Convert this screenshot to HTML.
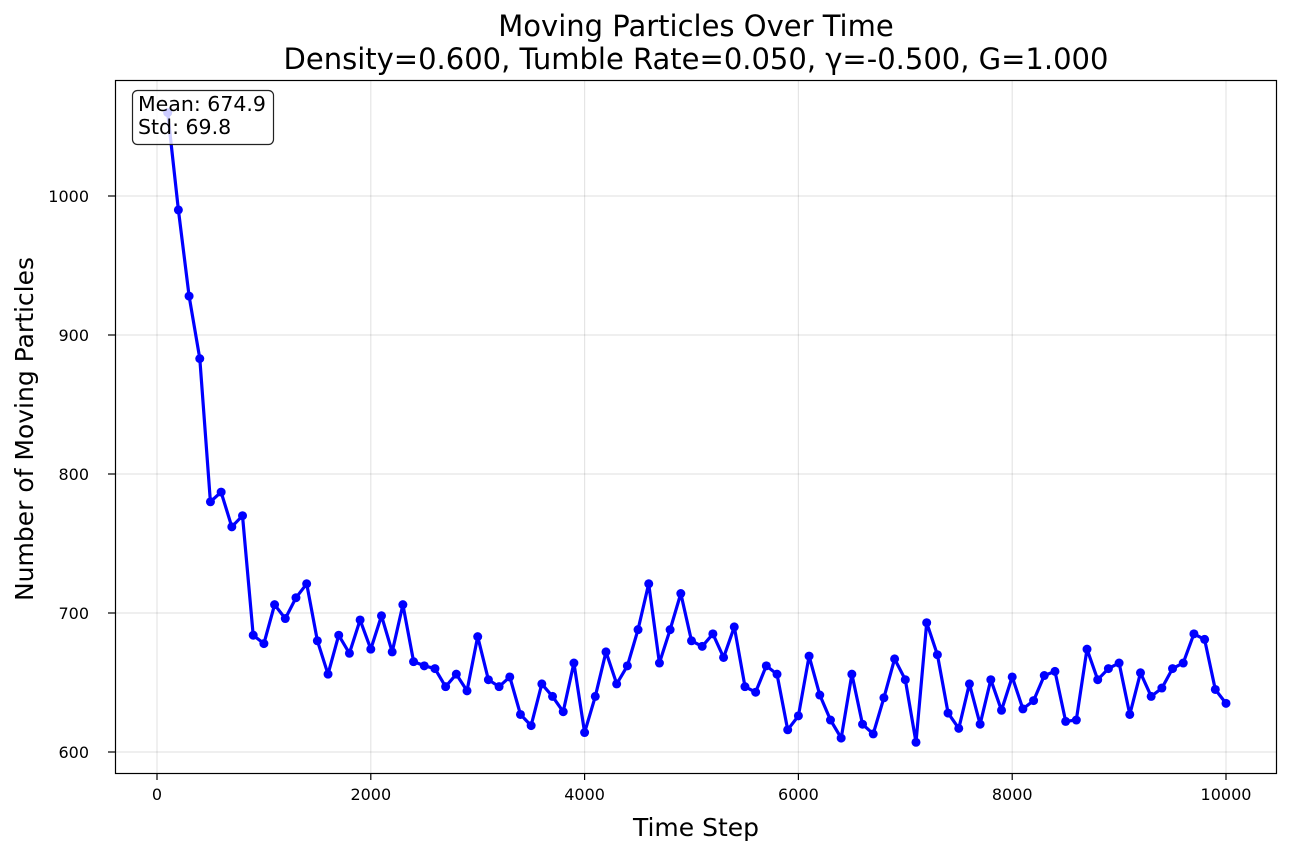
<!DOCTYPE html>
<html><head><meta charset="utf-8"><style>
body{margin:0;background:#fff;font-family:"Liberation Sans","DejaVu Sans",sans-serif;}
svg text{font-family:"DejaVu Sans","Liberation Sans",sans-serif;}
</style></head><body>
<svg id="chart" width="1292" height="856" xmlns="http://www.w3.org/2000/svg">
<rect width="1292" height="856" fill="#fff"/>
<g id="grid"></g>
<g id="series"></g>
<rect x="115.5" y="80.5" width="1161" height="693" fill="none" stroke="#000" stroke-width="1.2"/>
<g id="ticks"></g>
<text x="696" y="36" font-size="29" text-anchor="middle">Moving Particles Over Time</text>
<text x="696" y="69" font-size="29" text-anchor="middle">Density=0.600, Tumble Rate=0.050, γ=-0.500, G=1.000</text>
<text x="696" y="836" font-size="25" text-anchor="middle">Time Step</text>
<text transform="translate(33,429) rotate(-90)" font-size="25" text-anchor="middle">Number of Moving Particles</text>
<g>
<rect x="132.5" y="90.5" width="141" height="54" rx="5" fill="#fff" fill-opacity="0.8" stroke="#222" stroke-width="1.2"/>
<text x="138" y="111" font-size="20.5">Mean: 674.9</text>
<text x="138" y="134" font-size="20.5">Std: 69.8</text>
</g>
</svg>
<script>
const steps = [];
for (let i = 1; i <= 100; i++) steps.push(i * 100);
const counts = [1060,990,928,883,780,787,762,770,684,678,706,696,711,721,680,656,684,671,695,674,698,672,706,665,662,660,647,656,644,683,652,647,654,627,619,649,640,629,664,614,640,672,649,662,688,721,664,688,714,680,676,685,668,690,647,643,662,656,616,626,669,641,623,610,656,620,613,639,667,652,607,693,670,628,617,649,620,652,630,654,631,637,655,658,622,623,674,652,660,664,627,657,640,646,660,664,685,681,645,635];
const xTicks = [0,2000,4000,6000,8000,10000];
const yTicks = [600,700,800,900,1000];
const NS = 'http://www.w3.org/2000/svg';
const xs = v => 157 + v * (1226 - 157) / 10000;
const ys = v => 752 - (v - 600) * (752 - 196) / 400;
const grid = document.getElementById('grid'), ticks = document.getElementById('ticks'), ser = document.getElementById('series');
function mk(tag, attrs, parent){const e=document.createElementNS(NS,tag);for(const k in attrs)e.setAttribute(k,attrs[k]);parent.appendChild(e);return e;}
xTicks.forEach(t=>{
  const x=xs(t);
  const g=mk('line',{x1:x,x2:x,y1:80,y2:773,stroke:'#000','stroke-opacity':0.1,'stroke-width':1.2},grid);
  
  
  const l=mk('line',{x1:x,x2:x,y1:773,y2:780,stroke:'#000','stroke-width':1.2},ticks);
  
  
  const tx=mk('text',{x:x,y:800,'font-size':16,'text-anchor':'middle'},ticks);tx.textContent=t;
  
  
});
yTicks.forEach(t=>{
  const y=ys(t);
  const g=mk('line',{x1:115,x2:1276,y1:y,y2:y,stroke:'#000','stroke-opacity':0.1,'stroke-width':1.2},grid);
  
  
  const l=mk('line',{x1:108,x2:115,y1:y,y2:y,stroke:'#000','stroke-width':1.2},ticks);
  
  
  const tx=mk('text',{x:89,y:y+6,'font-size':16,'text-anchor':'end'},ticks);tx.textContent=t;
  
  
});
const pts=steps.map((s,i)=>xs(s).toFixed(1)+','+ys(counts[i]).toFixed(1)).join(' ');
const pl=mk('polyline',{points:pts,fill:'none',stroke:'#0000ff','stroke-width':3.2,'stroke-linejoin':'round'},ser);


steps.forEach((s,i)=>{
  const c=mk('circle',{cx:xs(s),cy:ys(counts[i]),r:4.5,fill:'#0000ff'},ser);
  
  
});
</script>
</body></html>
